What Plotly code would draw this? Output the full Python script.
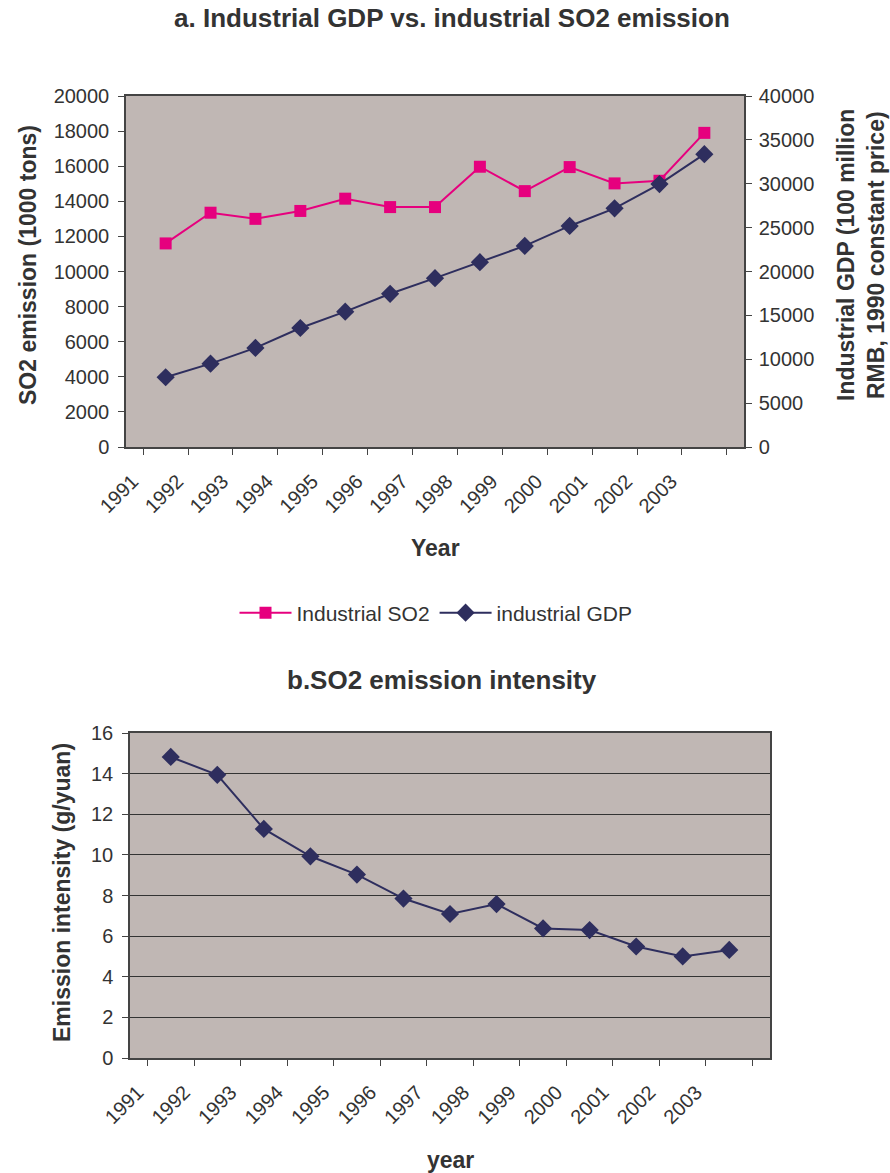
import plotly.graph_objects as go

years = ["1991", "1992", "1993", "1994", "1995", "1996", "1997",
         "1998", "1999", "2000", "2001", "2002", "2003"]
so2_emission = [11600, 13350, 13000, 13450, 14150, 13670, 13670,
                15970, 14580, 15950, 15020, 15170, 17900]
industrial_gdp = [7950, 9500, 11290, 13560, 15420, 17460, 19240,
                  21060, 22920, 25190, 27200, 29960, 33370]
intensity = [14.82, 13.94, 11.28, 9.93, 9.03, 7.85, 7.09,
             7.58, 6.38, 6.30, 5.49, 5.00, 5.32]

W, H = 890, 1173
FONT = "Liberation Sans, Arial, sans-serif"
TXT = "#333333"
BG = "#C0B7B4"
PINK = "#E6007E"
NAVY = "#2E2E5E"

def px(x):
    return x / W

def py(y):
    return 1 - y / H

fig = go.Figure()

fig.add_trace(go.Scatter(
    x=years, y=so2_emission, name="Industrial SO2", mode="lines+markers",
    line=dict(color=PINK, width=2),
    marker=dict(symbol="square", size=12, color=PINK),
    xaxis="x", yaxis="y"))
fig.add_trace(go.Scatter(
    x=years, y=industrial_gdp, name="industrial GDP", mode="lines+markers",
    line=dict(color=NAVY, width=2),
    marker=dict(symbol="diamond", size=14, color=NAVY),
    xaxis="x", yaxis="y2"))
fig.add_trace(go.Scatter(
    x=years, y=intensity, name="Emission intensity", mode="lines+markers",
    line=dict(color=NAVY, width=2),
    marker=dict(symbol="diamond", size=14, color=NAVY),
    xaxis="x2", yaxis="y3", showlegend=False))

axis_common = dict(showline=True, linecolor="#444444", linewidth=1.5,
                   ticks="outside", ticklen=6, tickcolor="#444444",
                   tickfont=dict(family=FONT, size=20, color=TXT),
                   zeroline=False, fixedrange=True, automargin=False)

xcommon = dict(type="category", tickson="boundaries", tickangle=-45,
               showgrid=False, mirror=True, ticklabelshift=-33,
               ticklabelstandoff=13)

fig.update_layout(
    template="none",
    width=W, height=H,
    margin=dict(l=0, r=0, t=0, b=0, autoexpand=False),
    paper_bgcolor="white",
    plot_bgcolor=BG,
    font=dict(family=FONT, color=TXT),
    showlegend=True,
    legend=dict(orientation="h", x=px(436), xanchor="center",
                y=py(613), yanchor="middle",
                font=dict(family=FONT, size=21, color=TXT),
                itemwidth=52, bgcolor="rgba(0,0,0,0)"),
    xaxis=dict(domain=[px(126), px(744)], anchor="y", **xcommon,
               **axis_common),
    yaxis=dict(domain=[py(447), py(96)], anchor="x", range=[0, 20000],
               dtick=2000, tickformat="d", showgrid=False, mirror=False,
               ticklabelstandoff=5, **axis_common),
    yaxis2=dict(overlaying="y", side="right", anchor="x", range=[0, 40000],
                dtick=5000, tickformat="d", showgrid=False,
                ticklabelstandoff=3, **axis_common),
    xaxis2=dict(domain=[px(130), px(770)], anchor="y3", **xcommon,
                **axis_common),
    yaxis3=dict(domain=[py(1058), py(733)], anchor="x2", range=[0, 16],
                dtick=2, showgrid=True, gridcolor="#333333", gridwidth=1,
                mirror=True, ticklabelstandoff=5, **axis_common),
)

def note(text, x, y, size=19, angle=0, bold=True):
    fig.add_annotation(text=f"<b>{text}</b>" if bold else text,
                       x=px(x), y=py(y), xref="paper", yref="paper",
                       xanchor="center", yanchor="middle", showarrow=False,
                       textangle=angle,
                       font=dict(family=FONT, size=size, color=TXT))

note("a. Industrial GDP vs. industrial SO2 emission", 452, 18, size=26)
note("SO2 emission (1000 tons)", 28, 265, size=23, angle=-90)
note("Industrial GDP (100 million", 846, 255, size=23, angle=-90)
note("RMB, 1990 constant price)", 876, 255, size=23, angle=-90)
note("Year", 435, 548, size=23)
note("b.SO2 emission intensity", 442, 680, size=26)
note("Emission intensity (g/yuan)", 62, 893, size=23, angle=-90)
note("year", 451, 1160, size=23)

fig.write_html("out.html", config={"displayModeBar": False},
               post_script="document.body.style.margin='0';")
